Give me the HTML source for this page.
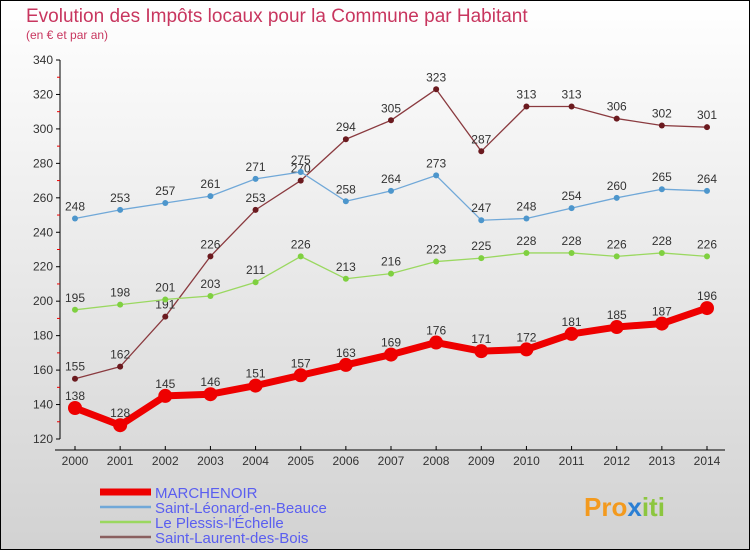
<!DOCTYPE html>
<html><head><meta charset="utf-8"><style>
html,body{margin:0;padding:0}
body{width:750px;height:550px;overflow:hidden;font-family:"Liberation Sans",sans-serif}
</style></head><body>
<svg width="750" height="550" xmlns="http://www.w3.org/2000/svg">
<defs><linearGradient id="bg" x1="0" y1="0" x2="0" y2="1"><stop offset="0" stop-color="#ffffff"/><stop offset="1" stop-color="#d2d2d2"/></linearGradient></defs>
<rect x="0.5" y="0.5" width="749" height="549" fill="url(#bg)" stroke="#000"/>
<text x="26" y="22" font-size="19" fill="#c8365f">Evolution des Impôts locaux pour la Commune par Habitant</text>
<text x="26" y="39" font-size="12" fill="#c8365f">(en € et par an)</text>
<g id="axes"></g>
<g id="series"></g>
<g id="legend"></g>
<text x="584" y="516" font-size="26" font-weight="bold"><tspan fill="#f39a1e">Pro</tspan><tspan fill="#2a7fd4">x</tspan><tspan fill="#8cc63f">iti</tspan></text>
</svg>
<script>
const years=[2000,2001,2002,2003,2004,2005,2006,2007,2008,2009,2010,2011,2012,2013,2014];
const marchenoir=[138,128,145,146,151,157,163,169,176,171,172,181,185,187,196];
const leonard=[248,253,257,261,271,275,258,264,273,247,248,254,260,265,264];
const plessis=[195,198,201,203,211,226,213,216,223,225,228,228,226,228,226];
const laurent=[155,162,191,226,253,270,294,305,323,287,313,313,306,302,301];
const yTicks=[120,140,160,180,200,220,240,260,280,300,320,340];
const names=["MARCHENOIR","Saint-Léonard-en-Beauce","Le Plessis-l'Échelle","Saint-Laurent-des-Bois"];
const NS="http://www.w3.org/2000/svg";
const X=y=>75+(y-2000)*(632/14);
const Y=v=>439-(v-120)*(379/220);
function mk(t,a,p){const e=document.createElementNS(NS,t);for(const k in a)e.setAttribute(k,a[k]);p.appendChild(e);return e;}
const ax=document.getElementById('axes');
let l=mk('line',{x1:60,y1:Y(340),x2:60,y2:Y(120),stroke:'#000'},ax);


l=mk('line',{x1:55,y1:450,x2:725,y2:450,stroke:'#000'},ax);


yTicks.forEach(v=>{
 mk('line',{x1:56,y1:Y(v),x2:60,y2:Y(v),stroke:'#000'},ax);
 if(v<340)mk('line',{x1:57,y1:Y(v+10),x2:60,y2:Y(v+10),stroke:'#e00'},ax);
 const t=mk('text',{x:53,y:Y(v)+4,'font-size':12,'text-anchor':'end',fill:'#333'},ax);t.textContent=v;
 
 
});
years.forEach(y=>{
 mk('line',{x1:X(y),y1:446,x2:X(y),y2:450,stroke:'#000'},ax);
 const t=mk('text',{x:X(y),y:465,'font-size':12,'text-anchor':'middle',fill:'#333'},ax);t.textContent=y;
 
 
});
const sg=document.getElementById('series');
const specs=[[laurent,'#6b1a1f','#8a3a3f',1.3,3,'series-saint-laurent'],[plessis,'#7fd040','#9ad860',1.3,3,'series-le-plessis'],[leonard,'#4d96cc','#70a8d8',1.3,3,'series-saint-leonard'],[marchenoir,'#ee0000','#ee0000',7,7,'series-marchenoir']];
specs.forEach(([d,c,lc,w,r,n])=>{
 const g=mk('g',{},sg);
 
 
 mk('polyline',{points:d.map((v,i)=>X(years[i])+','+Y(v)).join(' '),fill:'none',stroke:lc,'stroke-width':w,'stroke-linejoin':'round'},g);
 d.forEach((v,i)=>{
  const p=mk('circle',{cx:X(years[i]),cy:Y(v),r:r,fill:c},g);
  
  
  const t=mk('text',{x:X(years[i]),y:Y(v)-8,'font-size':12,'text-anchor':'middle',fill:'#333'},g);t.textContent=v;
  
  
 });
});
const lg=document.getElementById('legend');
const lcols=['#ee0000','#70a8d8','#9ad860','#8a6060'];const lw=[7,2.5,2.5,2.5];
names.forEach((n,i)=>{
 const y=492+i*15;
 const g=mk('g',{},lg);
 
 
 mk('line',{x1:100,y1:y,x2:151,y2:y,stroke:lcols[i],'stroke-width':lw[i]},g);
 const t=mk('text',{x:155,y:y+6,'font-size':15,fill:'#5a5ef0'},g);t.textContent=n;
});
</script>
</body></html>
